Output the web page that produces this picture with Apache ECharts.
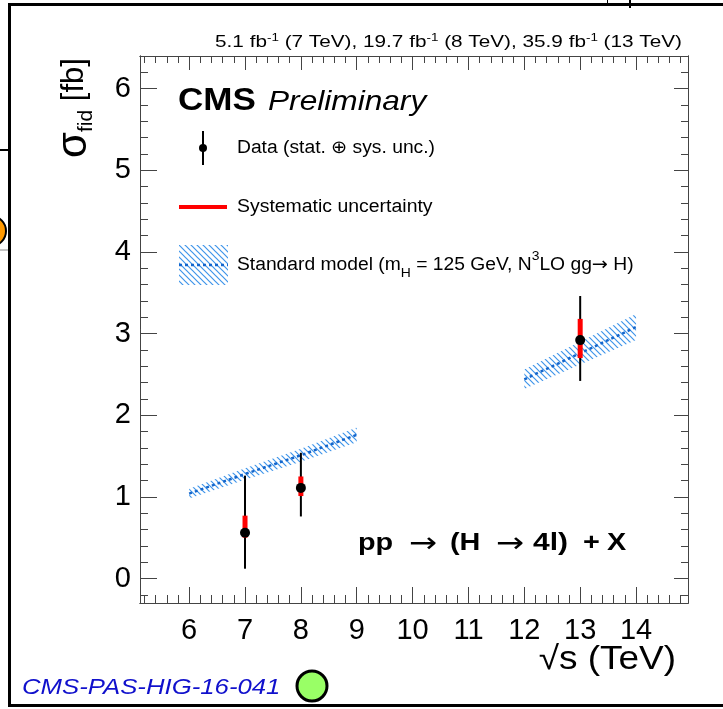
<!DOCTYPE html>
<html><head><meta charset="utf-8">
<script src="https://cdn.jsdelivr.net/npm/echarts@6/dist/echarts.min.js"></script>
<style>html,body{margin:0;padding:0;background:#fff}#c{width:723px;height:709px}</style>
</head><body><div id="c"></div>
<script>
// ---- data ----
const energies = [7, 8, 13];
const xsecMeasured = [0.56, 1.11, 2.92];
const totErrUp = [0.70, 0.43, 0.54];
const totErrDown = [0.44, 0.35, 0.50];
const sysErrUp = [0.21, 0.14, 0.26];
const sysErrDown = [0.06, 0.10, 0.22];

const smEnergyLow = [6, 7, 8, 9];
const smXsecLow = [1.04, 1.28, 1.51, 1.76];
const smErrLow = [0.06, 0.07, 0.08, 0.09];
const smEnergyHigh = [12, 13, 14];
const smXsecHigh = [2.44, 2.76, 3.08];
const smErrHigh = [0.12, 0.14, 0.16];

const xTickLabels = [6, 7, 8, 9, 10, 11, 12, 13, 14];
const yTickLabels = [0, 1, 2, 3, 4, 5, 6];

// ---- helpers ----
const FONT = "'Liberation Sans', Arial, Helvetica, sans-serif";
const ARROW_FONT = "'DejaVu Sans', sans-serif";
const X_MIN = 5.12, X_MAX = 14.93, Y_MIN = -0.3, Y_MAX = 6.4;
const xMinor = [], yMinor = [];
for (let k = 26; k <= 74; k++) { const v = +(k * 0.2).toFixed(2); if (v > X_MIN && v < X_MAX && Math.abs(v - Math.round(v)) > 1e-6) xMinor.push(v); }
for (let k = -1; k <= 31; k++) { const v = +(k * 0.2).toFixed(2); if (v > Y_MIN && v < Y_MAX && Math.abs(v - Math.round(v)) > 1e-6) yMinor.push(v); }

function makeHatch() {
  const c = document.createElement('canvas'); c.width = 6; c.height = 6;
  const g = c.getContext('2d');
  g.strokeStyle = '#3f95ea'; g.lineWidth = 1.2;
  g.beginPath();
  g.moveTo(0, 0); g.lineTo(6, 6);
  g.moveTo(-3, 3); g.lineTo(3, 9);
  g.moveTo(3, -3); g.lineTo(9, 3);
  g.stroke();
  return c;
}
const hatch = { image: makeHatch(), repeat: 'repeat' };
const AX = '#444';

function xAxisDef(pos, ticks, len, labels) {
  return {
    type: 'value', position: pos, min: X_MIN, max: X_MAX,
    axisLine: { show: true, onZero: false, lineStyle: { color: AX, width: 1 } },
    axisTick: { show: true, inside: true, length: len, customValues: ticks, lineStyle: { color: AX, width: 1 } },
    axisLabel: labels ? { show: true, customValues: xTickLabels, fontSize: 29, color: '#000', fontFamily: FONT, margin: 13 } : { show: false },
    splitLine: { show: false }
  };
}
function yAxisDef(pos, ticks, len, labels) {
  return {
    type: 'value', position: pos, min: Y_MIN, max: Y_MAX,
    axisLine: { show: true, onZero: false, lineStyle: { color: AX, width: 1 } },
    axisTick: { show: true, inside: true, length: len, customValues: ticks, lineStyle: { color: AX, width: 1 } },
    axisLabel: labels ? { show: true, customValues: yTickLabels, fontSize: 29, color: '#000', fontFamily: FONT, margin: 9 } : { show: false },
    splitLine: { show: false }
  };
}

function bandSeries(xs, cs, es) {
  return {
    type: 'custom', xAxisIndex: 0, yAxisIndex: 0, z: 2, silent: true,
    data: xs.map((x, i) => [x, cs[i], es[i]]),
    renderItem(params, api) {
      const i = params.dataIndex;
      if (i >= xs.length - 1) return null;
      const pts = [
        api.coord([xs[i], cs[i] + es[i]]),
        api.coord([xs[i + 1], cs[i + 1] + es[i + 1]]),
        api.coord([xs[i + 1], cs[i + 1] - es[i + 1]]),
        api.coord([xs[i], cs[i] - es[i]])
      ];
      return { type: 'polygon', shape: { points: pts }, style: { fill: hatch, stroke: null } };
    }
  };
}
function centerLine(xs, cs) {
  return {
    type: 'line', xAxisIndex: 0, yAxisIndex: 0, z: 3, silent: true, symbol: 'none',
    data: xs.map((x, i) => [x, cs[i]]),
    lineStyle: { color: '#1466cc', width: 2.5, type: [3, 3] }
  };
}
function txt(x, y, text, font, extra, family) {
  return Object.assign({ type: 'text', x: x, y: y, style: Object.assign({ text: text, font: font + ' ' + (family || FONT), fill: '#000', verticalAlign: 'middle' }, (extra && extra.style) || {}) }, (extra && extra.el) || {});
}

const chart = echarts.init(document.getElementById('c'), null, { renderer: 'canvas' });
chart.setOption({
  animation: false,
  backgroundColor: '#fff',
  grid: { left: 140, right: 35, top: 56, bottom: 106, containLabel: false, outerBoundsMode: 'none' },
  xAxis: [
    xAxisDef('bottom', xTickLabels, 16, true),
    xAxisDef('bottom', xMinor, 8, false),
    xAxisDef('top', xTickLabels, 14, false),
    xAxisDef('top', xMinor, 7, false)
  ],
  yAxis: [
    yAxisDef('left', yTickLabels, 17, true),
    yAxisDef('left', yMinor, 8, false),
    yAxisDef('right', yTickLabels, 14, false),
    yAxisDef('right', yMinor, 7, false)
  ],
  series: [
    bandSeries(smEnergyLow, smXsecLow, smErrLow),
    bandSeries(smEnergyHigh, smXsecHigh, smErrHigh),
    centerLine(smEnergyLow, smXsecLow),
    centerLine(smEnergyHigh, smXsecHigh),
    {
      type: 'custom', xAxisIndex: 0, yAxisIndex: 0, z: 5, silent: true,
      data: energies.map((e, i) => [e, xsecMeasured[i], totErrUp[i], totErrDown[i], sysErrUp[i], sysErrDown[i]]),
      renderItem(params, api) {
        const x = api.value(0), y = api.value(1);
        const c = api.coord([x, y]);
        const tHi = api.coord([x, y + api.value(2)]), tLo = api.coord([x, y - api.value(3)]);
        const sHi = api.coord([x, y + api.value(4)]), sLo = api.coord([x, y - api.value(5)]);
        return {
          type: 'group', children: [
            { type: 'line', shape: { x1: c[0], y1: tHi[1], x2: c[0], y2: tLo[1] }, style: { stroke: '#000', lineWidth: 2 } },
            { type: 'rect', shape: { x: c[0] - 2.5, y: sHi[1], width: 5, height: sLo[1] - sHi[1] }, style: { fill: '#ff0000' } },
            { type: 'circle', shape: { cx: c[0], cy: c[1], r: 5 }, style: { fill: '#000' } }
          ]
        };
      }
    }
  ],
  graphic: [
    // slide frame
    { type: 'rect', shape: { x: 8, y: 3, width: 715, height: 3 }, style: { fill: '#000' } },
    { type: 'rect', shape: { x: 8, y: 3, width: 3, height: 704 }, style: { fill: '#000' } },
    { type: 'rect', shape: { x: 8, y: 704, width: 715, height: 3 }, style: { fill: '#000' } },
    { type: 'line', shape: { x1: 607.5, y1: 0, x2: 607.5, y2: 4 }, style: { stroke: '#000', lineWidth: 1 } },
    { type: 'rect', shape: { x: 629, y: 0, width: 2, height: 8 }, style: { fill: '#000' } },
    { type: 'line', shape: { x1: 0, y1: 150, x2: 8, y2: 150 }, style: { stroke: '#000', lineWidth: 2 } },
    { type: 'line', shape: { x1: 0, y1: 250, x2: 8, y2: 250 }, style: { stroke: '#888', lineWidth: 1 } },
    { type: 'circle', shape: { cx: -9, cy: 231, r: 15 }, style: { fill: '#ff9900', stroke: '#000', lineWidth: 2 } },
    { type: 'circle', shape: { cx: 312, cy: 686, r: 15 }, style: { fill: '#99ff66', stroke: '#000', lineWidth: 3 } },
    // top lumi text
    { type: 'text', x: 682, y: 42, scaleX: 1.22, style: {
      text: '5.1 fb{sup|-1} (7 TeV), 19.7 fb{sup|-1} (8 TeV), 35.9 fb{sup|-1} (13 TeV)',
      font: '17px ' + FONT, fill: '#000', align: 'right', verticalAlign: 'middle', lineHeight: 20,
      rich: { sup: { fontSize: 11, fontFamily: FONT, verticalAlign: 'top', lineHeight: 20, fill: '#000' } }
    } },
    // CMS Preliminary
    txt(178, 101, 'CMS', 'bold 31px', { el: { scaleX: 1.13 } }),
    txt(268, 102, 'Preliminary', 'italic 28px', { el: { scaleX: 1.13 } }),
    // legend
    { type: 'line', shape: { x1: 203, y1: 131, x2: 203, y2: 165 }, style: { stroke: '#000', lineWidth: 2 } },
    { type: 'circle', shape: { cx: 203, cy: 148, r: 4 }, style: { fill: '#000' } },
    txt(237, 148, 'Data (stat. \u2295 sys. unc.)', '18px', { el: { scaleX: 1.07 } }),
    { type: 'line', shape: { x1: 179, y1: 207, x2: 227, y2: 207 }, style: { stroke: '#ff0000', lineWidth: 4 } },
    txt(237, 207, 'Systematic uncertainty', '18px', { el: { scaleX: 1.08 } }),
    { type: 'rect', shape: { x: 179, y: 245, width: 49, height: 40 }, style: { fill: hatch } },
    { type: 'line', shape: { x1: 179, y1: 265, x2: 228, y2: 265 }, style: { stroke: '#1466cc', lineWidth: 2.5, lineDash: [3, 3] } },
    { type: 'text', x: 237, y: 265, scaleX: 1.07, style: {
      text: 'Standard model (m{sub|H} = 125 GeV, N{sup|3}LO gg{arr|\u2192} H)',
      font: '18px ' + FONT, fill: '#000', verticalAlign: 'middle', lineHeight: 30,
      rich: {
        sub: { fontSize: 13, fontFamily: FONT, verticalAlign: 'bottom', lineHeight: 30, fill: '#000' },
        sup: { fontSize: 13, fontFamily: FONT, verticalAlign: 'top', lineHeight: 30, fill: '#000' },
        arr: { fontSize: 18, fontFamily: ARROW_FONT, verticalAlign: 'middle', lineHeight: 30, fill: '#000' }
      }
    } },
    // process label
    txt(358, 543, 'pp', 'bold 24px', { el: { scaleX: 1.2 } }),
    txt(423, 545, '\u2192', '28px', { el: { scaleX: 1.2 }, style: { align: 'center' } }, ARROW_FONT),
    txt(450, 543, '(H', 'bold 24px', { el: { scaleX: 1.2 } }),
    txt(510, 545, '\u2192', '28px', { el: { scaleX: 1.2 }, style: { align: 'center' } }, ARROW_FONT),
    txt(533, 543, '4l)', 'bold 24px', { el: { scaleX: 1.25 } }),
    txt(583, 543, '+', 'bold 24px', { el: { scaleX: 1.2 } }),
    txt(607, 543, 'X', 'bold 24px', { el: { scaleX: 1.2 } }),
    // axis titles
    txt(676, 660, '\u221As (TeV)', '33px', { el: { scaleX: 1.12 }, style: { align: 'right' } }),
    { type: 'text', x: 74, y: 108, rotation: Math.PI / 2, style: {
      text: '{s|\u03C3}{sub|fid}{n| [fb]}', align: 'center', verticalAlign: 'middle', font: '31px ' + FONT, fill: '#000',
      rich: {
        s: { fontSize: 42, fontFamily: FONT, lineHeight: 46, fill: '#000' },
        sub: { fontSize: 21, fontFamily: FONT, verticalAlign: 'bottom', lineHeight: 46, fill: '#000' },
        n: { fontSize: 31, fontFamily: FONT, lineHeight: 46, fill: '#000' }
      }
    } },
    // publication tag
    txt(22, 688, 'CMS-PAS-HIG-16-041', 'italic 22px', { el: { scaleX: 1.17 }, style: { fill: '#1010cc' } })
  ]
});
</script>
</body></html>
